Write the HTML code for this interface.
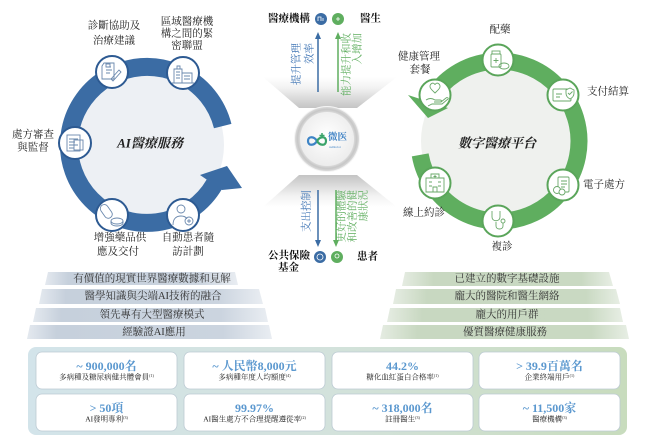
<!DOCTYPE html>
<html><head><meta charset="utf-8"><style>
html,body{margin:0;padding:0;background:#fff;}
svg{display:block;}
text{font-family:"Liberation Serif","Noto Serif CJK SC",serif;}
</style></head><body>
<svg width="657" height="440" viewBox="0 0 657 440" xmlns="http://www.w3.org/2000/svg">
<defs>
  <linearGradient id="wTop" x1="0" y1="0" x2="0" y2="1">
    <stop offset="0" stop-color="#ffffff"/>
    <stop offset="0.35" stop-color="#f2f2f2"/>
    <stop offset="1" stop-color="#c4c4c4"/>
  </linearGradient>
  <linearGradient id="wBot" x1="0" y1="0" x2="0" y2="1">
    <stop offset="0" stop-color="#c4c4c4"/>
    <stop offset="0.65" stop-color="#f2f2f2"/>
    <stop offset="1" stop-color="#ffffff"/>
  </linearGradient>
  <radialGradient id="cRing" cx="0.5" cy="0.5" r="0.5">
    <stop offset="0.8" stop-color="#e6e6e6"/>
    <stop offset="0.92" stop-color="#c6c6c6"/>
    <stop offset="1" stop-color="#dadada"/>
  </radialGradient>
  <radialGradient id="cIn" cx="0.5" cy="0.45" r="0.55">
    <stop offset="0" stop-color="#ffffff"/>
    <stop offset="1" stop-color="#ececec"/>
  </radialGradient>
  <linearGradient id="barL" x1="0" y1="0" x2="1" y2="0">
    <stop offset="0" stop-color="#e4e9ef"/>
    <stop offset="0.12" stop-color="#c6d0dc"/>
    <stop offset="0.8" stop-color="#cbd4df"/>
    <stop offset="1" stop-color="#e9edf2"/>
  </linearGradient>
  <linearGradient id="barR" x1="0" y1="0" x2="1" y2="0">
    <stop offset="0" stop-color="#e5ece2"/>
    <stop offset="0.15" stop-color="#c8d8c1"/>
    <stop offset="0.85" stop-color="#c9d9c2"/>
    <stop offset="1" stop-color="#e7eee4"/>
  </linearGradient>
  <linearGradient id="panel" x1="0" y1="0" x2="1" y2="0">
    <stop offset="0" stop-color="#d3e4ea"/>
    <stop offset="0.5" stop-color="#d3e2dc"/>
    <stop offset="1" stop-color="#c8dcbd"/>
  </linearGradient>
</defs>

<!-- ============ LEFT CIRCLE ============ -->
<circle cx="147" cy="145" r="77" fill="#edf0f4"/>
<path d="M214.5 184 A78 78 0 1 1 222.7 126.1" fill="none" stroke="#3b6ca4" stroke-width="18"/>
<polygon points="200,175 227,166 242,188 222,190" fill="#3b6ca4"/>
<text x="150" y="143" font-size="13" font-weight="bold" font-style="italic" text-anchor="middle" dominant-baseline="central" fill="#222">AI醫療服務</text>

<!-- left nodes -->
<g fill="#fff" stroke="#2d5a92" stroke-width="2">
  <circle cx="112" cy="72" r="16"/>
  <circle cx="183" cy="73" r="16"/>
  <circle cx="75" cy="143" r="16"/>
  <circle cx="112" cy="215" r="16"/>
  <circle cx="183" cy="215" r="16"/>
</g>
<g fill="none" stroke="#6a88ad" stroke-width="0.9">
  <path d="M104 63 h10 v16 h-12 v-13 z"/><path d="M106 67 h5 M106 70 h6 M106 73 h4"/>
  <path d="M111 79 l8 -9 l2 2 l-8 9 z"/><rect x="106" y="64" width="4" height="3"/>
  <path d="M174 83 v-14 h8 v14 M182 83 v-10 h10 v10 M172 83 h22"/><path d="M176 72 h4 M176 75 h4 M176 78 h4 M184 76 h6 M184 79 h6"/><path d="M177 69 v-3 h3 v3"/>
  <rect x="67" y="135" width="13" height="16"/><path d="M69 139 h9 M69 142 h6 M69 145 h9 M69 148 h5"/><rect x="74" y="140" width="9" height="10"/>
  <rect x="102" y="204" width="8" height="15" rx="4" transform="rotate(-35 106 211)"/><ellipse cx="117" cy="221" rx="6" ry="3"/><path d="M111 221 v2 a6 3 0 0 0 12 0 v-2"/>
  <circle cx="181" cy="209" r="4"/><path d="M173 225 c0-7 4-9 8-9 c3 0 5 1 6 3"/><circle cx="189" cy="221" r="4"/><path d="M189 219 v4 M187 221 h4"/>
</g>

<g font-size="10.5" fill="#222" text-anchor="middle" dominant-baseline="central">
  <text x="114" y="26">診斷協助及</text>
  <text x="114" y="41">治療建議</text>
  <text x="187" y="22">區域醫療機</text>
  <text x="187" y="34">構之間的緊</text>
  <text x="187" y="46">密聯盟</text>
  <text x="33" y="135">處方審查</text>
  <text x="33" y="148">與監督</text>
  <text x="120" y="238">增強藥品供</text>
  <text x="118" y="252">應及交付</text>
  <text x="188" y="238">自動患者隨</text>
  <text x="188" y="252">訪計劃</text>
</g>

<!-- ============ CENTER ============ -->
<polygon points="263,77 397,77 357,108 299,108" fill="url(#wTop)"/>
<polygon points="299,175 357,175 397,207 263,207" fill="url(#wBot)"/>
<circle cx="327" cy="139" r="33" fill="#f4f4f4"/>
<circle cx="327" cy="139" r="32" fill="url(#cRing)"/>
<circle cx="327" cy="139" r="27" fill="url(#cIn)"/>
<path d="M317 141 c-3,-5 -9,-5 -9,0 c0,5 6,5 9,0" fill="none" stroke="#3d84c6" stroke-width="2.2"/>
<path d="M317 141 c3,5 9,5 9,0 c0,-5 -6,-5 -9,0" fill="none" stroke="#3aa36a" stroke-width="2.2"/>
<path d="M322 133 v5 M319.5 135.5 h5" stroke="#3aa36a" stroke-width="1.5"/>
<text x="328" y="140" font-size="9.5" font-weight="bold" fill="#2f78c0" font-family="Liberation Sans, Noto Sans CJK SC, sans-serif">微医</text>
<text x="329" y="148" font-size="3" fill="#2f78c0" font-family="Liberation Sans, sans-serif">weDoctor</text>

<g font-size="10.5" font-weight="bold" fill="#111" dominant-baseline="central">
  <text x="268" y="19">醫療機構</text>
  <text x="360" y="19">醫生</text>
  <text x="268" y="256">公共保險</text>
  <text x="278" y="268">基金</text>
  <text x="357" y="257">患者</text>
</g>
<circle cx="321" cy="19" r="6" fill="#3b6ca4"/>
<circle cx="338" cy="19" r="6" fill="#5fae5f"/>
<circle cx="320" cy="257" r="6" fill="#3b6ca4"/>
<circle cx="337" cy="257" r="6" fill="#5fae5f"/>
<path d="M318 21 v-4 h3 v4 M323 21 v-3" stroke="#fff" stroke-width="0.8" fill="none"/>
<path d="M336 19 h4 M338 17 v4" stroke="#fff" stroke-width="0.8"/>
<circle cx="320" cy="257" r="3" fill="none" stroke="#fff" stroke-width="0.8"/>
<circle cx="337" cy="256" r="2" fill="none" stroke="#fff" stroke-width="0.8"/>

<g stroke-width="1.5" fill="none">
  <path d="M318 92 V38" stroke="#3b6ca4"/>
  <path d="M338 92 V38" stroke="#5fae5f"/>
  <path d="M318 190 V241" stroke="#3b6ca4"/>
  <path d="M336 190 V241" stroke="#5fae5f"/>
</g>
<polygon points="318,32 315,39 321,39" fill="#3b6ca4"/>
<polygon points="338,32 335,39 341,39" fill="#5fae5f"/>
<polygon points="318,247 315,240 321,240" fill="#3b6ca4"/>
<polygon points="336,247 333,240 339,240" fill="#5fae5f"/>

<g font-size="10.5" dominant-baseline="central" text-anchor="end">
  <text transform="translate(297,43) rotate(-90)" fill="#3e74b4">提升管理</text>
  <text transform="translate(310,43) rotate(-90)" fill="#3e74b4">效率</text>
  <text transform="translate(347,33) rotate(-90)" fill="#5fae5f">能力提升和收</text>
  <text transform="translate(358,33) rotate(-90)" fill="#5fae5f">入增加</text>
  <text transform="translate(307,190) rotate(-90)" fill="#3e74b4">支出控制</text>
  <text transform="translate(342,190) rotate(-90)" fill="#5fae5f">更好的體驗</text>
  <text transform="translate(353,190) rotate(-90)" fill="#5fae5f">和改善的健</text>
  <text transform="translate(364,190) rotate(-90)" fill="#5fae5f">康狀況</text>
</g>

<!-- ============ RIGHT CIRCLE ============ -->
<circle cx="499" cy="141" r="78" fill="#eff1ee"/>
<path d="M431.2 98.6 A80 80 0 1 1 420.2 154.9" fill="none" stroke="#5fae5f" stroke-width="17"/>
<polygon points="408,95 448,108 428,118" fill="#5fae5f"/>
<text x="497" y="143" font-size="13" font-weight="bold" font-style="italic" text-anchor="middle" dominant-baseline="central" fill="#222">數字醫療平台</text>

<g fill="#fff" stroke="#5aa55a" stroke-width="2">
  <circle cx="498" cy="60" r="15.5"/>
  <circle cx="563" cy="95" r="15.5"/>
  <circle cx="563" cy="185" r="15.5"/>
  <circle cx="498" cy="221" r="15.5"/>
  <circle cx="435" cy="183" r="15.5"/>
  <circle cx="435" cy="95" r="15.5"/>
</g>
<g fill="none" stroke="#6aa86a" stroke-width="0.9">
  <rect x="491" y="54" width="10" height="13" rx="1"/><rect x="492" y="51" width="8" height="3"/><path d="M496 58 v5 M493.5 60.5 h5"/><ellipse cx="504" cy="66" rx="5" ry="3"/>
  <rect x="553" y="89" width="18" height="12" rx="1"/><path d="M556 94 h6 M556 97 h4"/><path d="M566 90 l4 -2 l4 2 v3 c0 3 -2 5 -4 6 c-2 -1 -4 -3 -4 -6 z" fill="#fff"/><path d="M568 93 l1.5 1.5 l3 -3"/>
  <rect x="558" y="177" width="11" height="15" rx="1"/><path d="M561 181 h6 M561 184 h6 M561 187 h4"/><circle cx="557" cy="190" r="3.5" fill="#fff"/><circle cx="562" cy="192" r="3" fill="#fff"/>
  <path d="M492 211 v6 c0 5 8 5 8 0 v-6"/><path d="M496 222 v4 c0 4 7 4 7 0 v-3"/><circle cx="503" cy="221" r="2"/>
  <path d="M426 192 v-14 h18 v14 z M431 178 v-4 h8 v4"/><path d="M435 175 v3 M433.5 176.5 h3"/><path d="M429 182 h3 M438 182 h3 M429 186 h3 M438 186 h3 M433 192 v-5 h4 v5"/>
  <path d="M435 93 c-3 -3 -7 -6 -4 -9 c2 -2 4 0 4 1 c0 -1 2 -3 4 -1 c3 3 -1 6 -4 9 z"/><path d="M426 100 c3 -2 6 -2 9 0 h5 c2 0 2 2 0 2 h-6 M434 102 h7 l5 -4 c1 -1 3 0 2 1 l-6 5 h-10 l-4 2"/>
</g>

<g font-size="10.5" fill="#222" dominant-baseline="central">
  <text x="500" y="30" text-anchor="middle">配藥</text>
  <text x="587" y="92">支付結算</text>
  <text x="583" y="185">電子處方</text>
  <text x="502" y="247" text-anchor="middle">複診</text>
  <text x="424" y="213" text-anchor="middle">線上約診</text>
  <text x="419" y="57" text-anchor="middle">健康管理</text>
  <text x="420" y="70" text-anchor="middle">套餐</text>
</g>

<!-- ============ PYRAMID BARS ============ -->
<g fill="url(#barL)">
  <polygon points="48,272 235,272 238,285 45,285"/>
  <polygon points="42,289 259,289 263,304 39,304"/>
  <polygon points="36,308 265,308 268,322 33,322"/>
  <polygon points="30,325 269,325 272,339 27,339"/>
</g>
<g fill="url(#barR)">
  <polygon points="405,272 609,272 613,286 402,286"/>
  <polygon points="396,289 616,289 620,304 393,304"/>
  <polygon points="390,308 620,308 623,322 387,322"/>
  <polygon points="383,325 626,325 629,339 380,339"/>
</g>
<g font-size="10.5" fill="#333" text-anchor="middle" dominant-baseline="central">
  <text x="152" y="279">有價值的現實世界醫療數據和見解</text>
  <text x="153" y="296.5">醫學知識與尖端AI技術的融合</text>
  <text x="152" y="315">領先專有大型醫療模式</text>
  <text x="154" y="332.5">經驗證AI應用</text>
  <text x="507" y="279">已建立的數字基礎設施</text>
  <text x="507" y="296.5">龐大的醫院和醫生網絡</text>
  <text x="507" y="315">龐大的用戶群</text>
  <text x="505" y="332.5">優質醫療健康服務</text>
</g>

<!-- ============ STATS PANEL ============ -->
<rect x="28" y="347" width="599" height="88" rx="8" fill="url(#panel)"/>
<g fill="#fff" stroke="#bccad3" stroke-width="0.8">
  <rect x="36" y="352" width="141" height="37" rx="6"/>
  <rect x="184" y="352" width="141" height="37" rx="6"/>
  <rect x="332" y="352" width="141" height="37" rx="6"/>
  <rect x="479" y="352" width="141" height="37" rx="6"/>
  <rect x="36" y="394" width="141" height="37" rx="6"/>
  <rect x="184" y="394" width="141" height="37" rx="6"/>
  <rect x="332" y="394" width="141" height="37" rx="6"/>
  <rect x="479" y="394" width="141" height="37" rx="6"/>
</g>
<g font-size="12" font-weight="bold" fill="#5b98cf" text-anchor="middle" dominant-baseline="central">
  <text x="106.5" y="366">~ 900,000名</text>
  <text x="254.5" y="366">~ 人民幣8,000元</text>
  <text x="402.5" y="366">44.2%</text>
  <text x="549.5" y="366">&gt; 39.9百萬名</text>
  <text x="106.5" y="408">&gt; 50項</text>
  <text x="254.5" y="408">99.97%</text>
  <text x="402.5" y="408">~ 318,000名</text>
  <text x="549.5" y="408">~ 11,500家</text>
</g>
<g font-size="7.5" fill="#222" text-anchor="middle" dominant-baseline="central">
  <text x="106.5" y="377">多病種及糖尿病健共體會員<tspan font-size="4" dy="-2">(1)</tspan></text>
  <text x="254.5" y="377">多病種年度人均額度<tspan font-size="4" dy="-2">(4)</tspan></text>
  <text x="402.5" y="377">糖化血紅蛋白合格率<tspan font-size="4" dy="-2">(1)</tspan></text>
  <text x="549.5" y="377">企業終端用戶<tspan font-size="4" dy="-2">(1)</tspan></text>
  <text x="106.5" y="419">AI發明專利<tspan font-size="4" dy="-2">(3)</tspan></text>
  <text x="254.5" y="419">AI醫生處方不合理提醒遵從率<tspan font-size="4" dy="-2">(2)</tspan></text>
  <text x="402.5" y="419">註冊醫生<tspan font-size="4" dy="-2">(3)</tspan></text>
  <text x="549.5" y="419">醫療機構<tspan font-size="4" dy="-2">(3)</tspan></text>
</g>
</svg>
</body></html>
